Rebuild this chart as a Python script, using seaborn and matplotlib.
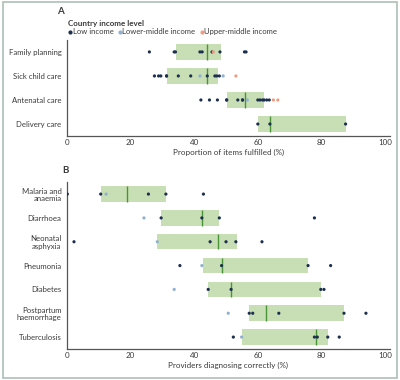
import pandas as pd
import matplotlib.pyplot as plt
import seaborn as sns
from matplotlib.lines import Line2D
from matplotlib.patches import Rectangle

# Panel A: proportion of items fulfilled (%)
cats_a = ['Family planning', 'Sick child care', 'Antenatal care', 'Delivery care']
q1_a = [34.3, 31.3, 50.2, 60.0]
med_a = [43.9, 44.1, 56.0, 63.8]
q3_a = [48.4, 47.4, 62.0, 87.6]
low_a = {
    'Family planning': [25.9, 33.7, 34.1, 41.8, 42.5, 45.6, 48.1, 55.8, 56.3],
    'Sick child care': [27.5, 28.8, 29.5, 31.3, 31.3, 35.0, 38.9, 44.1, 46.5, 47.1, 47.9],
    'Antenatal care': [42.1, 44.8, 47.3, 50.2, 50.2, 53.7, 55.2, 55.2, 60.0, 60.7, 61.5, 62.0, 62.8, 63.6],
    'Delivery care': [60.0, 63.8, 87.6],
}
lmid_a = {
    'Sick child care': [41.8, 49.1],
    'Antenatal care': [56.7],
}
umid_a = {
    'Family planning': [46.0],
    'Sick child care': [53.1],
    'Antenatal care': [64.9, 66.3],
}

# Panel B: providers diagnosing correctly (%)
cats_b = ['Malaria and\nanaemia', 'Diarrhoea', 'Neonatal\nasphyxia', 'Pneumonia',
          'Diabetes', 'Postpartum\nhaemorrhage', 'Tuberculosis']
q1_b = [10.6, 29.6, 28.4, 42.7, 44.4, 57.3, 55.1]
med_b = [18.9, 42.4, 47.6, 48.6, 51.6, 62.6, 78.3]
q3_b = [31.1, 47.9, 53.4, 75.9, 79.9, 87.1, 82.0]
low_b = {
    'Malaria and\nanaemia': [0.1, 10.6, 25.6, 31.1, 42.9],
    'Diarrhoea': [29.6, 42.4, 47.9, 77.8],
    'Neonatal\nasphyxia': [2.2, 45.0, 50.0, 53.1, 61.3],
    'Pneumonia': [35.5, 48.6, 75.8, 82.9],
    'Diabetes': [44.4, 51.6, 79.8, 80.8],
    'Postpartum\nhaemorrhage': [57.3, 58.4, 66.6, 87.1, 94.0],
    'Tuberculosis': [52.3, 77.8, 78.7, 82.0, 85.6],
}
lmid_b = {
    'Malaria and\nanaemia': [12.3],
    'Diarrhoea': [24.2],
    'Neonatal\nasphyxia': [28.4],
    'Pneumonia': [42.4],
    'Diabetes': [33.7],
    'Postpartum\nhaemorrhage': [50.7],
    'Tuberculosis': [54.9],
}

levels = ['Low income', 'Lower-middle income', 'Upper-middle income']
colors = ['#1c2f4f', '#8fb0d0', '#ee9c80']
box_color = '#c8deb4'
med_color = '#4a9438'
text_color = '#3a3a3a'


def long_table(groups):
    rows = []
    for level, d in zip(levels, groups):
        for cat, vals in d.items():
            for v in vals:
                rows.append({'category': cat, 'value': v, 'income': level})
    return pd.DataFrame(rows)


sns.set_style('white')
plt.rcParams['font.family'] = ['Lato', 'DejaVu Sans']
plt.rcParams['text.color'] = text_color
plt.rcParams['axes.labelcolor'] = text_color
plt.rcParams['xtick.color'] = text_color
plt.rcParams['ytick.color'] = text_color

fig = plt.figure(figsize=(4, 3.8), dpi=100)
ax_a = fig.add_axes([0.1675, 0.642, 0.807, 0.253])
ax_b = fig.add_axes([0.1675, 0.0816, 0.807, 0.439])


def draw_panel(ax, cats, q1, med, q3, df, xlabel):
    n = len(cats)
    pos = list(range(n))
    ax.barh(pos, [b - a for a, b in zip(q1, q3)], left=q1, height=0.65,
            color=box_color, edgecolor='none', zorder=1)
    ax.vlines(med, [p - 0.325 for p in pos], [p + 0.325 for p in pos],
              color=med_color, lw=1.0, zorder=2)
    sns.stripplot(data=df, x='value', y='category', hue='income', order=cats,
                  hue_order=levels, palette=colors, jitter=False, size=2.3,
                  linewidth=0, orient='h', legend=False, ax=ax, zorder=3)
    ax.set_xlim(0, 101.5)
    ax.set_ylim(n - 0.5, -0.5)
    ax.set_xticks([0, 20, 40, 60, 80, 100])
    ax.set_yticks(pos)
    ax.set_yticklabels(cats, fontsize=5.6, linespacing=1.1)
    ax.set_yticks([p - 0.5 for p in pos] + [n - 0.5], minor=True)
    ax.tick_params(axis='y', which='major', length=0, pad=4)
    ax.tick_params(axis='y', which='minor', length=3, width=0.8,
                   direction='out', color='#555555')
    ax.tick_params(axis='x', length=3, width=0.8, direction='in',
                   labelsize=5.8, pad=2, color='#555555')
    ax.set_xlabel(xlabel, fontsize=5.8, labelpad=2)
    ax.set_ylabel('')
    for s in ['top', 'right']:
        ax.spines[s].set_visible(False)
    for s in ['left', 'bottom']:
        ax.spines[s].set_color('#555555')
        ax.spines[s].set_linewidth(0.9)
    ax.set_facecolor('none')


draw_panel(ax_a, cats_a, q1_a, med_a, q3_a, long_table([low_a, lmid_a, umid_a]),
           'Proportion of items fulfilled (%)')
draw_panel(ax_b, cats_b, q1_b, med_b, q3_b, long_table([low_b, lmid_b, {}]),
           'Providers diagnosing correctly (%)')

handles = [Line2D([], [], marker='o', ls='none', ms=2, color=c) for c in colors]
leg = ax_a.legend(handles, levels, ncol=3, loc='lower left',
                  bbox_to_anchor=(-0.01, 1.0), frameon=False, fontsize=5.5,
                  title='Country income level', alignment='left',
                  title_fontproperties={'weight': 'bold', 'size': 5.8},
                  handletextpad=0.05, columnspacing=0.6, borderpad=0.1,
                  handlelength=0.5, labelspacing=0.2)

fig.text(57 / 400, 1 - 12 / 380, 'A', fontsize=7, fontweight='bold', va='center')
fig.text(62 / 400, 1 - 170 / 380, 'B', fontsize=7, fontweight='bold', va='center')

fig.patches.append(Rectangle((0.008, 0.006), 0.985, 0.99, transform=fig.transFigure,
                             fill=False, edgecolor='#aebfb8', lw=1.2))

fig.savefig('out.png', dpi=100)
